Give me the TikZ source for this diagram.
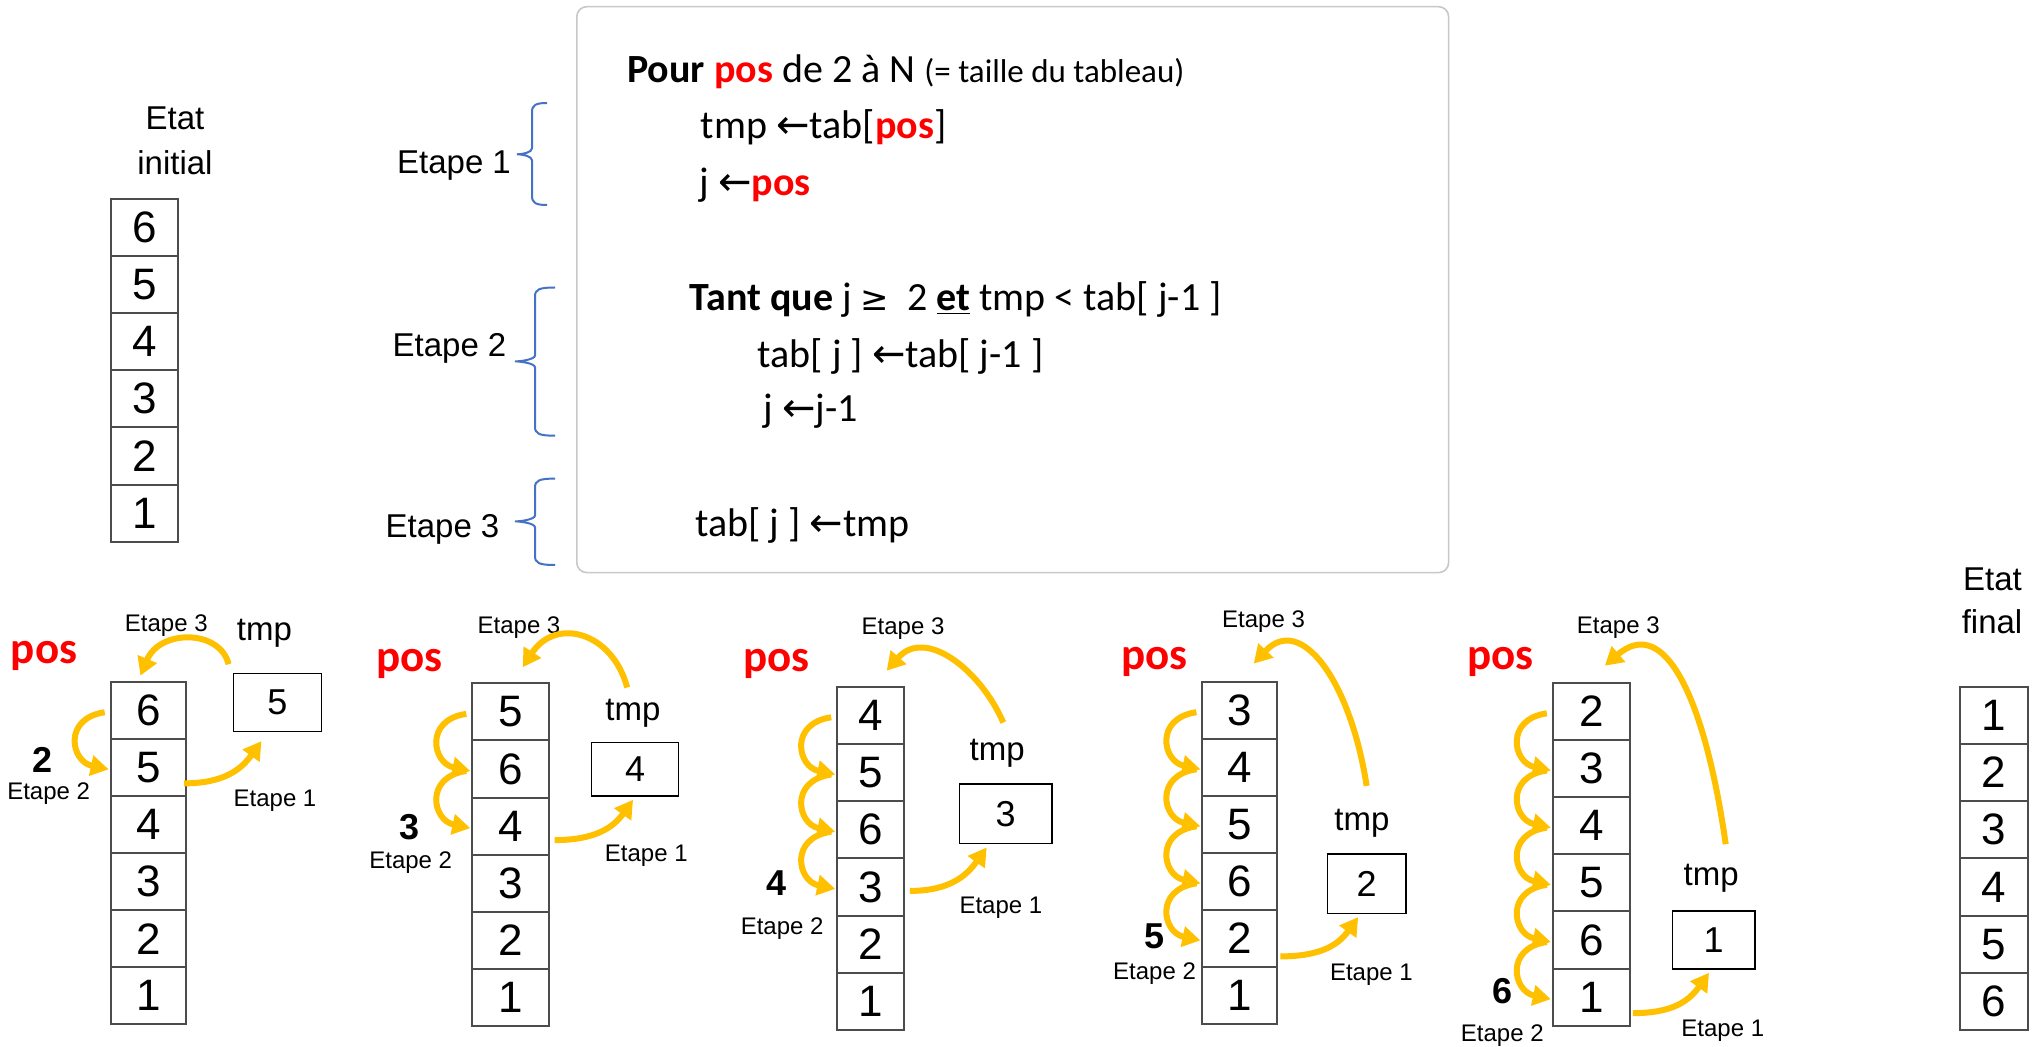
\documentclass[tikz,border=0pt]{standalone}
\usepackage{fontspec}
\setmainfont{Liberation Sans}
\newfontfamily\calfont{Carlito}
\newfontfamily\djv{DejaVu Sans}
\usetikzlibrary{arrows.meta,calc}
\definecolor{gold}{HTML}{FFC000}
\definecolor{braceblue}{HTML}{4472C4}
\definecolor{boxgray}{HTML}{C8C8C8}
\definecolor{myred}{HTML}{FF0000}
% brace: #1 arm x, #2 vertical x, #3 tip x, #4 top y, #5 tip y, #6 bottom y
\newcommand\mybrace[6]{%
  \draw[brc] (#1,#4) .. controls ({#2+4},#4) and (#2,{#4+2}) .. (#2,{#4+9})
    -- (#2,{#5-6}) .. controls (#2,{#5-2}) and ({#3+6},#5) .. (#3,#5)
    .. controls ({#3+6},#5) and (#2,{#5+2}) .. (#2,{#5+6})
    -- (#2,{#6-9}) .. controls (#2,{#6-2}) and ({#2+4},#6) .. (#1,#6);}
\begin{document}
\begin{tikzpicture}[x=0.5pt,y=-0.5pt,
 cell/.style={draw=black!70, line width=1pt, minimum height=28.6pt, inner sep=0pt, font=\fontsize{22}{24}\selectfont},
 tmpbox/.style={draw=black, line width=0.8pt, inner sep=0pt, font=\fontsize{18}{20}\selectfont},
 lbl/.style={inner sep=0pt, anchor=base},
 etq/.style={lbl, font=\fontsize{12}{14}\selectfont},
 big/.style={lbl, font=\fontsize{16.5}{18}\selectfont},
 posl/.style={lbl, font=\calfont\bfseries\fontsize{22.5}{24}\selectfont, text=myred},
 num/.style={lbl, font=\bfseries\fontsize{18}{20}\selectfont},
 codeline/.style={inner sep=0pt, anchor=base west, font=\calfont\fontsize{20}{24}\selectfont},
 garrow/.style={draw=gold, line width=3pt, -{Triangle[length=9pt,width=10pt]}},
 brc/.style={draw=braceblue, line width=1pt},
]
\fill[white] (0,0) rectangle (2033,1047);

% code box
\draw[draw=boxgray, line width=0.8pt, rounded corners=5pt] (576.8,6.7) rectangle (1448.6,572.6);
\node[codeline] (c1) at (626.8,82.1) {\textbf{Pour} \textcolor{myred}{\textbf{pos}} de 2 à N {\fontsize{16.5}{18}\selectfont (= taille du tableau)}};
\node[codeline] (c2) at (700.5,138.7) {tmp {\djv ←}tab[\textcolor{myred}{\textbf{pos}}]};
\node[codeline] (c3) at (699.4,196) {j {\djv ←}\textcolor{myred}{\textbf{pos}}};
\node[codeline] (c4) at (689.2,310.7) {\textbf{Tant que} j {\djv\fontsize{17}{20}\selectfont ≥}\ \ 2 \underline{\textbf{et}} tmp < tab[ j-1 ]};
\node[codeline] (c5) at (757.3,368) {tab[ j ] {\djv ←}tab[ j-1 ]};
\node[codeline] (c6) at (763,421.7) {j {\djv ←}j-1};
\node[codeline] (c7) at (694.9,536.4) {tab[ j ] {\djv ←}tmp};

% braces and step labels
\mybrace{547}{532}{517}{103}{154.3}{205}
\mybrace{555}{535}{515}{287.5}{361.4}{435.7}
\mybrace{555}{535}{515}{478.6}{521.4}{565}
\node[big] (s1) at (454,174) {Etape 1};
\node[big] (s2) at (449.5,357) {Etape 2};
\node[big] (s3) at (442.5,537.5) {Etape 3};

% initial state
\node[big] (etatA) at (175,129.3) {Etat};
\node[big] (etatB) at (175,175) {initial};
\foreach \v [count=\i] in {6,5,4,3,2,1}
  \node[cell, minimum width=33.45pt] (ini\i) at (144.85,{227.2+(\i-1)*57.2}) {\v};

% final state
\node[big] (etatC) at (1992.5,590) {Etat};
\node[big] (etatD) at (1992,633.3) {final};
\foreach \v [count=\i] in {1,2,3,4,5,6}
  \node[cell, minimum width=33.7pt] (fin\i) at (1993.9,{715.3+(\i-1)*57.2}) {\v};

% panel arrays
\foreach \v [count=\i] in {6,5,4,3,2,1}
  \node[cell, minimum width=37.75pt] (pa\i) at (148.45,{710.25+(\i-1)*57.1}) {\v};
\foreach \v [count=\i] in {5,6,4,3,2,1}
  \node[cell, minimum width=38.4pt] (pb\i) at (510.7,{711.86+(\i-1)*57.12}) {\v};
\foreach \v [count=\i] in {4,5,6,3,2,1}
  \node[cell, minimum width=33.5pt] (pc\i) at (870.7,{715.3+(\i-1)*57.2}) {\v};
\foreach \v [count=\i] in {3,4,5,6,2,1}
  \node[cell, minimum width=37.3pt] (pd\i) at (1239.7,{710.2+(\i-1)*57.05}) {\v};
\foreach \v [count=\i] in {2,3,4,5,6,1}
  \node[cell, minimum width=38.55pt] (pe\i) at (1591.35,{711.3+(\i-1)*57.17}) {\v};

% tmp boxes
\node[tmpbox, minimum width=43.95pt, minimum height=29pt] (ta) at (277.45,702.3) {5};
\node[tmpbox, minimum width=43.55pt, minimum height=26.85pt] (tb) at (635.05,769.15) {4};
\node[tmpbox, minimum width=46.25pt, minimum height=29.65pt] (tc) at (1005.65,813.65) {3};
\node[tmpbox, minimum width=39.15pt, minimum height=29.65pt] (td) at (1366.65,883.65) {2};
\node[tmpbox, minimum width=41.2pt, minimum height=29.15pt] (te) at (1713.6,939.85) {1};

% tmp labels
\node[big] (tla) at (264.5,640) {tmp};
\node[big] (tlb) at (632.9,720) {tmp};
\node[big] (tlc) at (997.2,760) {tmp};
\node[big] (tld) at (1361.9,830) {tmp};
\node[big] (tle) at (1711.1,885) {tmp};

% pos labels
\node[posl] (posa) at (44,663.3) {pos};
\node[posl] (posb) at (409.5,671.7) {pos};
\node[posl] (posc) at (776.75,671.7) {pos};
\node[posl] (posd) at (1154.25,669.3) {pos};
\node[posl] (pose) at (1500.4,669.3) {pos};

% Etape 3 labels
\node[etq] (e3a) at (166.3,631.7) {Etape 3};
\node[etq] (e3b) at (519,633.3) {Etape 3};
\node[etq] (e3c) at (903,634) {Etape 3};
\node[etq] (e3d) at (1263.55,627.3) {Etape 3};
\node[etq] (e3e) at (1618.25,633.3) {Etape 3};

% numbers
\node[num] (na) at (43,772.7) {2};
\node[num] (nb) at (409.6,839.3) {3};
\node[num] (nc) at (776.7,895) {4};
\node[num] (nd) at (1154.3,948.3) {5};
\node[num] (ne) at (1502,1003.3) {6};

% Etape 2 labels
\node[etq] (e2a) at (48.65,799.3) {Etape 2};
\node[etq] (e2b) at (410.7,868.3) {Etape 2};
\node[etq] (e2c) at (782.15,934) {Etape 2};
\node[etq] (e2d) at (1154.5,979.3) {Etape 2};
\node[etq] (e2e) at (1502.25,1041) {Etape 2};

% Etape 1 labels
\node[etq] (e1a) at (275,806) {Etape 1};
\node[etq] (e1b) at (646.3,861.7) {Etape 1};
\node[etq] (e1c) at (1000.9,913.3) {Etape 1};
\node[etq] (e1d) at (1371.4,980) {Etape 1};
\node[etq] (e1e) at (1722.75,1036) {Etape 1};

% Etape 2 arrows (shifts)
\foreach \p/\i/\j in {pa/1/2, pb/1/2, pb/2/3, pc/1/2, pc/2/3, pc/3/4, pd/1/2, pd/2/3, pd/3/4, pd/4/5, pe/1/2, pe/2/3, pe/3/4, pe/4/5, pe/5/6}
  \draw[garrow] ([shift={(-5,2)}]\p\i.west) .. controls +(-42,6) and +(-38,-8) .. ([shift={(-1,2)}]\p\j.west);

% Etape 1 arrows
\draw[garrow] ([shift={(-3,16)}]pa2.east) .. controls +(40,0) and +(-20,28) .. ([shift={(-16,9)}]ta.south);
\draw[garrow] ([shift={(4.5,14)}]pb3.east) .. controls +(40,0) and +(-20,28) .. ([shift={(-2,3)}]tb.south);
\draw[garrow] ([shift={(4.7,4)}]pc4.east) .. controls +(40,0) and +(-20,28) .. ([shift={(-19,3.4)}]tc.south);
\draw[garrow] ([shift={(2.3,18)}]pd5.east) .. controls +(40,0) and +(-20,28) .. ([shift={(-8.5,3)}]td.south);
\draw[garrow] ([shift={(2,16)}]pe6.east) .. controls +(40,0) and +(-20,28) .. ([shift={(-4.6,3)}]te.south);

% Etape 3 arrows
\draw[garrow] ([shift={(-48.85,-8.3)}]ta.north) .. controls +(-8.6,-35) and +(19.4,-46.7) .. ([shift={(-8,-5)}]pa1.north);
\draw[garrow] ([shift={(-7.85,-54)}]tb.north) .. controls +(-15.2,-56.3) and +(32.7,-50.3) .. ([shift={(12,-15)}]pb1.north);
\draw[garrow] ([shift={(-2.35,-60.7)}]tc.north) .. controls +(-23.3,-53.3) and +(38.3,-43.7) .. ([shift={(16,-15)}]pc1.north);
\draw[garrow] ([shift={(0,-67.3)}]td.north) .. controls +(-16.6,-106.7) and +(46.6,-50) .. ([shift={(14,-17)}]pd1.north);
\draw[garrow] ([shift={(12.1,-65.7)}]te.north) .. controls +(-20.7,-145) and +(60.1,-51.7) .. ([shift={(13.5,-16)}]pe1.north);
\end{tikzpicture}
\end{document}
